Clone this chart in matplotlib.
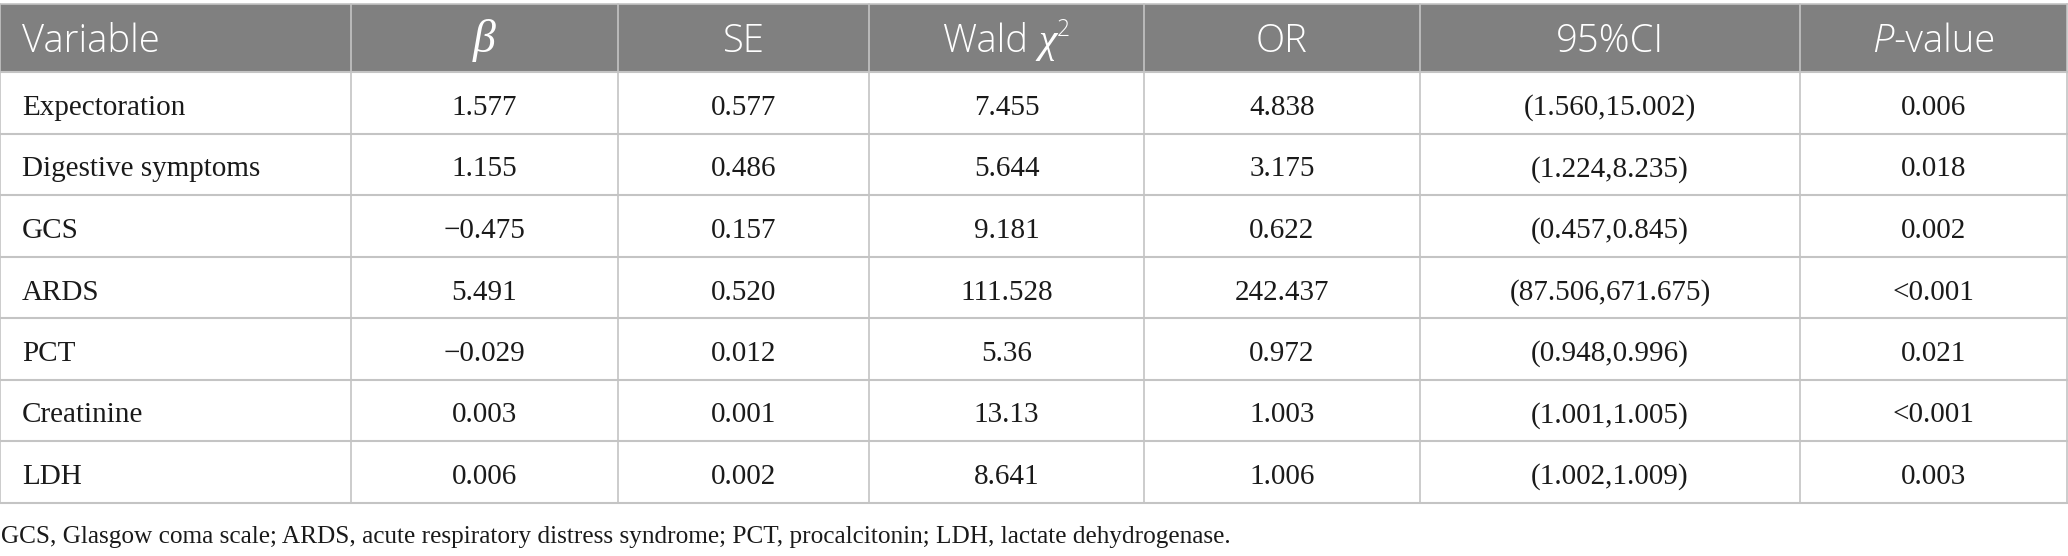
import matplotlib
matplotlib.use("Agg")
import matplotlib.pyplot as plt
from matplotlib.patches import Rectangle
from matplotlib.font_manager import FontProperties

# Table contents
variables = ["Expectoration", "Digestive symptoms", "GCS", "ARDS", "PCT", "Creatinine", "LDH"]
beta = ["1.577", "1.155", "\u22120.475", "5.491", "\u22120.029", "0.003", "0.006"]
se = ["0.577", "0.486", "0.157", "0.520", "0.012", "0.001", "0.002"]
wald = ["7.455", "5.644", "9.181", "111.528", "5.36", "13.13", "8.641"]
odds_ratio = ["4.838", "3.175", "0.622", "242.437", "0.972", "1.003", "1.006"]
ci95 = ["(1.560,15.002)", "(1.224,8.235)", "(0.457,0.845)", "(87.506,671.675)",
        "(0.948,0.996)", "(1.001,1.005)", "(1.002,1.009)"]
pvalue = ["0.006", "0.018", "0.002", "<0.001", "0.021", "<0.001", "0.003"]
footnote = ("GCS, Glasgow coma scale; ARDS, acute respiratory distress syndrome; "
            "PCT, procalcitonin; LDH, lactate dehydrogenase.")

columns = [variables, beta, se, wald, odds_ratio, ci95, pvalue]

# layout in pixels
W, H = 2068, 556
col_edges = [0, 351, 618, 869, 1144, 1420, 1800, 2067]
head_top, head_bot = 4, 72
row_h = 61.5
line_col = "#c4c4c4"
head_col = "#808080"

sans = FontProperties(family="Open Sans", weight="light", size=27.5)
sans_it = FontProperties(family="Open Sans", style="italic", weight="light", size=27.5)
sans_small = FontProperties(family="Open Sans", weight="light", size=16.5)
serif_head = FontProperties(family="Liberation Serif", style="italic", size=30)
serif_head_it = FontProperties(family="Liberation Serif", style="italic", size=33)
body = FontProperties(family="Liberation Serif", size=21)
foot = FontProperties(family="Liberation Serif", size=18.2)

fig = plt.figure(figsize=(W / 100, H / 100), dpi=100)
ax = fig.add_axes([0, 0, 1, 1])
ax.set_xlim(0, W)
ax.set_ylim(H, 0)
ax.axis("off")

n_rows = len(variables)
table_bot = head_bot + n_rows * row_h

ax.add_patch(Rectangle((0, head_top), col_edges[-1], head_bot - head_top,
                       facecolor=head_col, edgecolor="none", zorder=1))

# grid
for x in col_edges:
    ax.plot([x, x], [head_top, table_bot], color=line_col, lw=1.2, zorder=2)
ax.plot([0, col_edges[-1]], [head_top, head_top], color=line_col, lw=1.2, zorder=2)
for i in range(n_rows + 1):
    y = head_bot + i * row_h
    ax.plot([0, col_edges[-1]], [y, y], color=line_col, lw=1.5, zorder=2)

renderer = fig.canvas.get_renderer()


def draw_runs(xc, y, runs, align="center"):
    # runs: list of (text, fontprops, dy); measure then place side by side
    widths = []
    for txt, fp, dy in runs:
        t = ax.text(0, 0, txt, fontproperties=fp)
        widths.append(t.get_window_extent(renderer).width)
        t.remove()
    total = sum(widths)
    x = xc - total / 2 if align == "center" else xc
    for (txt, fp, dy), w in zip(runs, widths):
        ax.text(x, y + dy, txt, fontproperties=fp, color="white",
                va="baseline", ha="left", zorder=3)
        x += w


# header
hb = head_top + 48
centers = [(col_edges[i] + col_edges[i + 1]) / 2 for i in range(len(col_edges) - 1)]
draw_runs(22, hb, [("Variable", sans, 0)], align="left")
draw_runs(centers[1], hb, [("\u03b2", serif_head_it, 0)])
draw_runs(centers[2], hb, [("SE", sans, 0)])
draw_runs(centers[3], hb, [("Wald ", sans, 0), ("\u03c7", serif_head, 0), ("2", sans_small, -16)])
draw_runs(centers[4], hb, [("OR", sans, 0)])
draw_runs(centers[5], hb, [("95%CI", sans, 0)])
draw_runs(centers[6], hb, [("P", sans_it, 0), ("-value", sans, 0)])

# body
for r in range(n_rows):
    yb = head_bot + r * row_h + 43
    for c, col in enumerate(columns):
        if c == 0:
            ax.text(22, yb, col[r], fontproperties=body, color="#1a1a1a",
                    ha="left", va="baseline", zorder=3)
        else:
            ax.text(centers[c], yb, col[r], fontproperties=body, color="#1a1a1a",
                    ha="center", va="baseline", zorder=3)

ax.text(1, 543, footnote, fontproperties=foot, color="#1a1a1a", ha="left", va="baseline")

fig.savefig("out.png", dpi=100)
